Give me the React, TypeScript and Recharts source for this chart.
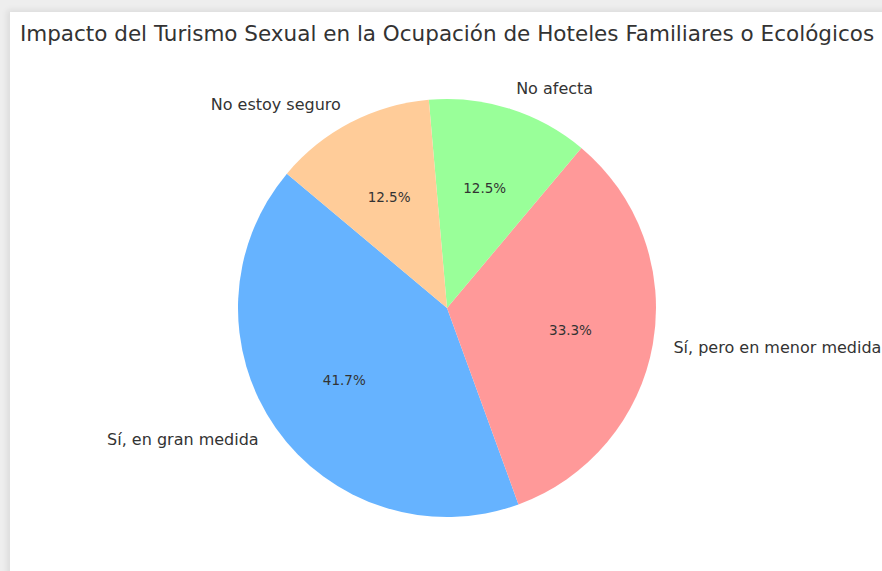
import React from "react";
import { PieChart, Pie, Cell } from "recharts";

const labels = [
  "Sí, en gran medida",
  "Sí, pero en menor medida",
  "No afecta",
  "No estoy seguro",
];
const counts = [10, 8, 3, 3];
const colors = ["#66b3ff", "#ff9999", "#99ff99", "#ffcc99"];

const data = labels.map((name, i) => ({ name, value: counts[i] }));

const RADIAN = Math.PI / 180;
const FONT = "'DejaVu Sans', sans-serif";

// matplotlib style: name at 1.1r, percentage at 0.6r
const renderLabel = (props: any) => {
  const { cx, cy, midAngle, outerRadius, percent, name } = props;
  const cos = Math.cos(-midAngle * RADIAN);
  const sin = Math.sin(-midAngle * RADIAN);
  const ox = cx + outerRadius * 1.1 * cos;
  const oy = cy + outerRadius * 1.1 * sin;
  const ix = cx + outerRadius * 0.6 * cos;
  const iy = cy + outerRadius * 0.6 * sin;
  return (
    <g>
      <text
        x={ox}
        y={oy}
        fill="#333"
        fontSize={16}
        fontFamily={FONT}
        textAnchor={cos > 0 ? "start" : "end"}
        dominantBaseline="central"
      >
        {name}
      </text>
      <text
        x={ix}
        y={iy}
        fill="#333"
        fontSize={13.5}
        fontFamily={FONT}
        textAnchor="middle"
        dominantBaseline="central"
      >
        {`${(percent * 100).toFixed(1)}%`}
      </text>
    </g>
  );
};

export default function App() {
  return (
    <div
      style={{
        position: "relative",
        width: 882,
        height: 571,
        overflow: "hidden",
        background: "#eeeeee",
        fontFamily: FONT,
      }}
    >
      <style>{"body{margin:0}"}</style>
      <div
        style={{
          position: "absolute",
          left: 10,
          top: 12,
          width: 900,
          height: 600,
          background: "#ffffff",
          boxShadow: "-3px -2px 6px rgba(0,0,0,0.08)",
        }}
      />
      <PieChart
        width={882}
        height={571}
        margin={{ top: 0, right: 0, bottom: 0, left: 0 }}
        style={{ position: "absolute", left: 0, top: 0 }}
      >
        <text
          x={447}
          y={33}
          textAnchor="middle"
          dominantBaseline="central"
          fontSize={21.5}
          fontFamily={FONT}
          fill="#333"
        >
          Impacto del Turismo Sexual en la Ocupación de Hoteles Familiares o Ecológicos
        </text>
        <Pie
          data={data}
          dataKey="value"
          nameKey="name"
          cx={447}
          cy={308}
          outerRadius={209}
          startAngle={140}
          endAngle={500}
          stroke="none"
          labelLine={false}
          label={renderLabel}
          isAnimationActive={false}
        >
          {data.map((d, i) => (
            <Cell key={d.name} fill={colors[i]} />
          ))}
        </Pie>
      </PieChart>
    </div>
  );
}
